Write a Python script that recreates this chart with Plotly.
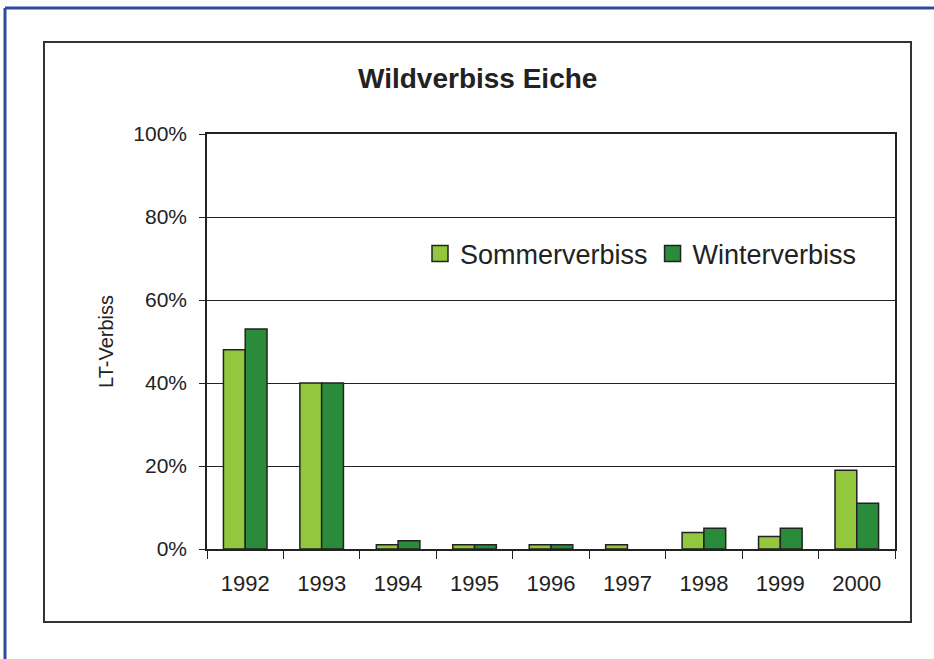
import plotly.graph_objects as go

years = ['1992', '1993', '1994', '1995', '1996', '1997', '1998', '1999', '2000']
sommer = [0.48, 0.40, 0.01, 0.01, 0.01, 0.01, 0.04, 0.03, 0.19]
winter = [0.53, 0.40, 0.02, 0.01, 0.01, None, 0.05, 0.05, 0.11]

light_green = '#93C83E'
dark_green = '#2A8C3B'
font = 'Liberation Sans, Arial, sans-serif'

# plot area in pixels: x 207..895, y 134..549
L, R, T, B = 207, 895, 134, 549
W, H = 934, 659


def px_x(v):
    return (v - L) / (R - L)


def px_y(v):
    return (B - v) / (B - T)


fig = go.Figure()
fig.add_trace(go.Bar(x=years, y=sommer, name='Sommerverbiss', showlegend=False,
                     marker=dict(color=light_green, line=dict(color='#222222', width=1.5))))
fig.add_trace(go.Bar(x=years, y=winter, name='Winterverbiss', showlegend=False,
                     marker=dict(color=dark_green, line=dict(color='#222222', width=1.5))))

# legend proxies with bigger squares
for name, col in [('Sommerverbiss', light_green), ('Winterverbiss', dark_green)]:
    fig.add_trace(go.Scatter(x=[None], y=[None], mode='markers', name=name,
                             marker=dict(symbol='square', size=16, color=col,
                                         line=dict(color='#222222', width=1.5))))

fig.update_layout(
    width=W, height=H,
    margin=dict(l=L, r=W - R, t=T, b=H - B),
    plot_bgcolor='white', paper_bgcolor='white',
    barmode='group', bargap=0.43, bargroupgap=0,
    font=dict(family=font, color='#222222'),
    legend=dict(orientation='h', x=px_x(420), y=px_y(254), xanchor='left', yanchor='middle',
                font=dict(size=27, family=font, color='#222222'),
                bgcolor='rgba(0,0,0,0)', itemwidth=30, tracegroupgap=0),
    annotations=[dict(text='<b>Wildverbiss Eiche</b>', x=px_x(477), y=px_y(78),
                      xref='paper', yref='paper', showarrow=False,
                      xanchor='center', yanchor='middle',
                      font=dict(size=28, family=font, color='#222222'))],
    shapes=[
        # outer blue frame (top and left, running off the page)
        dict(type='line', xref='paper', yref='paper', x0=px_x(5), x1=px_x(W + 20),
             y0=px_y(8), y1=px_y(8), line=dict(color='#2C4C9C', width=3)),
        dict(type='line', xref='paper', yref='paper', x0=px_x(5), x1=px_x(5),
             y0=px_y(8), y1=px_y(H + 20), line=dict(color='#2C4C9C', width=3)),
        # chart box
        dict(type='rect', xref='paper', yref='paper', x0=px_x(44), x1=px_x(911),
             y0=px_y(42), y1=px_y(622), line=dict(color='#333333', width=2), layer='below'),
    ],
)

fig.update_xaxes(showline=True, linecolor='#222222', linewidth=1.5, mirror=True,
                 ticks='outside', tickson='boundaries', ticklen=8, tickcolor='#222222',
                 ticklabelstandoff=14,
                 tickfont=dict(size=22, family=font, color='#222222'),
                 showgrid=False)
fig.update_yaxes(range=[0, 1], tickvals=[0, 0.2, 0.4, 0.6, 0.8, 1.0], tickformat='.0%',
                 showline=True, linecolor='#222222', linewidth=1.5, mirror=True,
                 ticks='outside', ticklen=6, tickcolor='#222222',
                 ticklabelstandoff=8,
                 tickfont=dict(size=21, family=font, color='#222222'),
                 showgrid=True, gridcolor='#222222', gridwidth=1, zeroline=False,
                 title=dict(text='LT-Verbiss', standoff=14,
                            font=dict(size=20, family=font, color='#222222')))

# drop the default body margin so the figure sits at the page corner
fig.write_html('out.html', config={'displayModeBar': False},
               post_script="document.body.style.margin='0px';")
